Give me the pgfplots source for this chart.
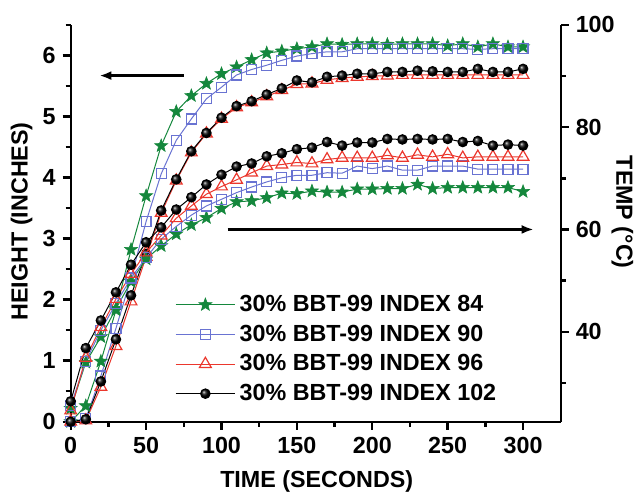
\documentclass[border=0pt]{standalone}
\usepackage{fontspec}
\setmainfont{Liberation Sans}
\usepackage{pgfplots}
\usepackage{pgfplotstable}
\pgfplotsset{compat=1.18}
\usetikzlibrary{arrows.meta}

\definecolor{cgreen}{RGB}{20,135,60}
\definecolor{cblue}{RGB}{105,115,210}
\definecolor{cred}{RGB}{235,55,45}

% filled five-point star
\pgfdeclareplotmark{fstar}{%
  \pgfpathmoveto{\pgfpointpolar{90}{\pgfplotmarksize}}%
  \pgfpathlineto{\pgfpointpolar{126}{0.42\pgfplotmarksize}}%
  \pgfpathlineto{\pgfpointpolar{162}{\pgfplotmarksize}}%
  \pgfpathlineto{\pgfpointpolar{198}{0.42\pgfplotmarksize}}%
  \pgfpathlineto{\pgfpointpolar{234}{\pgfplotmarksize}}%
  \pgfpathlineto{\pgfpointpolar{270}{0.42\pgfplotmarksize}}%
  \pgfpathlineto{\pgfpointpolar{306}{\pgfplotmarksize}}%
  \pgfpathlineto{\pgfpointpolar{342}{0.42\pgfplotmarksize}}%
  \pgfpathlineto{\pgfpointpolar{18}{\pgfplotmarksize}}%
  \pgfpathlineto{\pgfpointpolar{54}{0.42\pgfplotmarksize}}%
  \pgfpathclose
  \pgfusepathqfillstroke}

% height (inches), left axis
\pgfplotstableread{
t   h84  h90  h96  h102
0   0    0    0    0
10  0.26 0.05 0.02 0.04
20  0.99 0.75 0.57 0.66
30  1.83 1.53 1.24 1.35
40  2.82 2.35 1.97 2.07
50  3.70 3.28 2.70 2.75
60  4.52 4.06 3.42 3.46
70  5.08 4.61 3.95 3.97
80  5.34 4.96 4.41 4.43
90  5.54 5.29 4.72 4.73
100 5.70 5.48 4.96 4.98
110 5.81 5.68 5.15 5.17
120 5.93 5.77 5.23 5.25
130 6.04 5.84 5.33 5.36
140 6.07 5.92 5.43 5.46
150 6.11 5.99 5.53 5.59
160 6.14 6.03 5.54 5.56
170 6.19 6.06 5.60 5.65
180 6.18 6.06 5.63 5.67
190 6.19 6.11 5.65 5.70
200 6.19 6.11 5.66 5.70
210 6.18 6.11 5.67 5.73
220 6.19 6.11 5.68 5.73
230 6.19 6.11 5.68 5.75
240 6.19 6.11 5.68 5.74
250 6.16 6.11 5.68 5.73
260 6.19 6.11 5.68 5.73
270 6.14 6.10 5.68 5.78
280 6.19 6.11 5.68 5.73
290 6.14 6.11 5.68 5.73
300 6.14 6.11 5.68 5.78
}\heights

% temperature (C), right axis
\pgfplotstableread{
t   T84  T90  T96  T102
0   25.0 25.5 24.6 26.4
10  34.0 34.2 34.9 36.8
20  39.0 40.3 40.9 42.2
30  44.5 45.5 46.4 47.7
40  49.8 50.5 51.3 53.1
50  54.2 54.5 55.5 57.5
60  56.8 58.1 58.8 60.4
70  59.1 60.6 62.2 63.9
80  60.9 62.8 64.6 66.3
90  62.3 64.6 66.9 68.8
100 64.1 65.9 68.4 70.7
110 65.4 67.2 69.7 72.3
120 65.6 68.3 71.1 72.9
130 66.2 69.3 72.4 74.3
140 67.1 70.1 72.7 74.9
150 67.0 70.6 73.1 75.7
160 67.5 70.6 72.9 76.0
170 67.3 71.1 73.7 77.1
180 67.3 71.0 74.0 76.4
190 67.9 72.4 74.0 77.0
200 67.9 71.9 74.0 77.0
210 68.0 72.4 74.5 77.7
220 68.0 71.6 74.0 77.6
230 68.8 71.6 74.6 77.7
240 68.0 72.4 74.2 77.6
250 68.2 72.4 74.7 77.7
260 68.2 72.4 74.0 77.1
270 68.2 71.8 74.2 77.3
280 68.2 71.8 74.2 76.4
290 68.2 71.8 74.2 76.6
300 67.4 71.8 74.2 76.4
}\temps

\pgfplotsset{
  common/.style={
    scale only axis, width=246pt, height=199.2pt,
    xmin=0, xmax=325, clip=false,
    axis line style={line width=1.2pt,-},
    tick align=outside, major tick length=4pt, minor tick length=2.5pt,
    every tick/.style={line width=1.2pt,black},
    ticklabel style={font=\bfseries\fontsize{11.7}{14}\selectfont},
    /pgf/number format/assume math mode=true,
  },
  s84/.style={color=cgreen, line width=0.5pt, mark=fstar, mark size=3.4pt, mark options={fill=cgreen, line width=0.3pt}},
  s90/.style={color=cblue, line width=0.5pt, mark=square, mark size=2.5pt, mark options={fill=white, line width=0.6pt}},
  s96/.style={color=cred, line width=0.5pt, mark=triangle, mark size=3.4pt, mark options={fill=white, line width=0.6pt}},
  s102/.style={color=black, line width=0.5pt, mark=ball, mark size=2.4pt, mark options={ball color=black}},
}

\begin{document}
\begin{tikzpicture}
\begin{axis}[common,
  ymin=0, ymax=6.5,
  axis x line*=bottom, axis y line*=left,
  xtick={0,50,...,300}, minor xtick={25,75,...,275},
  ytick={0,1,...,6}, minor ytick={0.5,1.5,...,6.5},
  xlabel={\bfseries\fontsize{11.7}{14}\selectfont TIME (SECONDS)},
  xlabel style={at={(axis description cs:0.502,-0.150)}, anchor=center},
  ylabel={\bfseries\fontsize{11.7}{14}\selectfont HEIGHT (INCHES)},
  ylabel style={at={(axis description cs:-0.100,0.505)}, anchor=center},
]
\path (rel axis cs:-0.1443,-0.1926) rectangle (rel axis cs:1.1565,1.0628);
\addplot[s84] table[x=t, y=h84] {\heights};
\addplot[s90] table[x=t, y=h90] {\heights};
\addplot[s96] table[x=t, y=h96] {\heights};
\addplot[s102] table[x=t, y=h102] {\heights};
\draw[-{Latex[length=6pt,width=4.5pt]}, line width=1.2pt] (axis cs:74.8,5.67) -- (axis cs:19,5.67);
\end{axis}

\begin{axis}[common,
  ymin=22.4, ymax=100,
  axis x line=none, axis y line*=right,
  ytick={40,60,80,100}, minor ytick={30,50,70,90},
  legend cell align=left,
  legend style={at={(axis description cs:0.212,0.330)}, anchor=north west,
    draw=none, fill=none, inner sep=0pt, row sep=1.2pt,
    font=\bfseries\fontsize{11.7}{14}\selectfont},
  legend image code/.code={\draw[mark repeat=2,mark phase=2,#1] plot coordinates {(0pt,0pt) (15pt,0pt) (30pt,0pt)};},
]
\addplot[s84] table[x=t, y=T84] {\temps};
\addlegendentry{30\% BBT-99 INDEX 84}
\addplot[s90] table[x=t, y=T90] {\temps};
\addlegendentry{30\% BBT-99 INDEX 90}
\addplot[s96] table[x=t, y=T96] {\temps};
\addlegendentry{30\% BBT-99 INDEX 96}
\addplot[s102] table[x=t, y=T102] {\temps};
\addlegendentry{30\% BBT-99 INDEX 102}
\draw[-{Latex[length=6pt,width=4.5pt]}, line width=1.2pt] (axis cs:104,60) -- (axis cs:307,60);
\node[rotate=-90, anchor=center, font=\bfseries\fontsize{11.7}{14}\selectfont] at (axis description cs:1.126,0.528) {TEMP (°C)};
\end{axis}
\end{tikzpicture}
\end{document}
